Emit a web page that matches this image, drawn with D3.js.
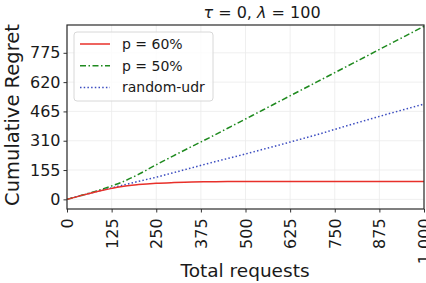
<!DOCTYPE html>
<html>
<head>
<meta charset="utf-8">
<script src="https://cdn.jsdelivr.net/npm/d3@7"></script>
<style>
  body { margin: 0; background: #fff; }
  text { font-family: "DejaVu Sans", sans-serif; fill: #1a1a1a; }
</style>
</head>
<body>
<svg id="chart" width="426" height="283"></svg>
<script>
// data
const requests = [0, 50, 100, 125, 150, 200, 250, 300, 350, 400, 450, 500, 550, 600, 650, 700, 750, 800, 850, 900, 950, 1000];
const regretP60 = [0, 25, 48, 58, 67, 78, 85, 89, 92, 93, 94, 94, 94, 94, 94, 94, 94, 94, 94, 94, 94, 94];
const regretP50 = [0, 26, 55, 71, 88, 132, 183, 232, 280, 327, 376, 425, 474, 523, 572, 621, 670, 719, 768, 817, 866, 915];
const regretRandom = [0, 25, 50, 61, 72, 95, 117, 142, 167, 192, 216, 240, 265, 290, 316, 342, 370, 398, 425, 452, 478, 504];
const seriesNames = ["p = 60%", "p = 50%", "random-udr"];
const xTicks = [0, 125, 250, 375, 500, 625, 750, 875, 1000];
const yTicks = [0, 155, 310, 465, 620, 775];

const margin = {top: 25, right: 2, bottom: 74, left: 67};
const width = 426, height = 283;

const svg = d3.select("#chart");

const x = d3.scaleLinear().domain([0, 1000]).range([margin.left, width - margin.right]);
const y = d3.scaleLinear().domain([-51, 922]).range([height - margin.bottom, margin.top]);

// grid
svg.append("g")
    .selectAll("line")
    .data(xTicks)
    .enter().append("line")
    .attr("x1", (d) => x(d)).attr("x2", (d) => x(d))
    .attr("y1", margin.top).attr("y2", height - margin.bottom)
    .style("stroke", "#ebebeb").style("stroke-width", 0.8);
svg.append("g")
    .selectAll("line")
    .data(yTicks)
    .enter().append("line")
    .attr("x1", margin.left).attr("x2", width - margin.right)
    .attr("y1", (d) => y(d)).attr("y2", (d) => y(d))
    .style("stroke", "#ebebeb").style("stroke-width", 0.8);

// lines
const series = [
    {name: seriesNames[0], values: regretP60, color: "#e8302a", dash: null},
    {name: seriesNames[1], values: regretP50, color: "#1f8a1f", dash: "6,2.5,1.5,2.5"},
    {name: seriesNames[2], values: regretRandom, color: "#3b4cc0", dash: "1.5,2.2"}
];

const line = d3.line()
    .x((d) => x(d[0]))
    .y((d) => y(d[1]))
    .curve(d3.curveMonotoneX);

svg.append("g")
    .selectAll("path")
    .data(series.slice().reverse())
    .enter().append("path")
    .attr("d", (s) => line(requests.map((r, i) => [r, s.values[i]])))
    .style("fill", "none")
    .style("stroke", (s) => s.color)
    .style("stroke-width", 1.5)
    .style("stroke-dasharray", (s) => s.dash);

// axes
const xAxis = svg.append("g")
    .attr("transform", `translate(0, ${height - margin.bottom})`)
    .call(d3.axisBottom(x).tickValues(xTicks).tickSize(3.5).tickPadding(3));
xAxis.selectAll(".tick text")
    .attr("text-anchor", "end")
    .attr("dx", "-0.4em")
    .attr("dy", "0.35em")
    .attr("x", 0).attr("y", 0)
    .attr("transform", "translate(0,3) rotate(-90)")
    .style("font-size", "16px");

const yAxis = svg.append("g")
    .attr("transform", `translate(${margin.left}, 0)`)
    .call(d3.axisLeft(y).tickValues(yTicks).tickSize(3.5).tickPadding(3));
yAxis.selectAll("text").style("font-size", "16px");

svg.selectAll(".domain").remove();
svg.selectAll(".tick line").style("stroke", "#333");

// frame
svg.append("rect")
    .attr("x", margin.left).attr("y", margin.top)
    .attr("width", x(1000) - margin.left)
    .attr("height", y(-51) - margin.top)
    .style("fill", "none").style("stroke", "#2a2a2a").style("stroke-width", 1.2);

// labels
svg.append("text")
    .attr("x", 245).attr("y", 277)
    .attr("text-anchor", "middle")
    .style("font-size", "18.5px")
    .text("Total requests");

svg.append("text")
    .attr("transform", `translate(19, 115) rotate(-90)`)
    .attr("text-anchor", "middle")
    .style("font-size", "19.5px")
    .text("Cumulative Regret");

const title = svg.append("text")
    .attr("x", 262).attr("y", 18)
    .attr("text-anchor", "middle")
    .style("font-size", "16px");
title.append("tspan").style("font-style", "italic").text("τ");
title.append("tspan").text(" = 0,  ");
title.append("tspan").style("font-style", "italic").text("λ");
title.append("tspan").text(" = 100");

// legend
const legend = svg.append("g").attr("transform", "translate(74, 32)");
legend.append("rect")
    .attr("width", 139).attr("height", 69)
    .attr("rx", 3)
    .style("fill", "#fff").style("fill-opacity", 0.8)
    .style("stroke", "#d8d8d8").style("stroke-width", 1);
const item = legend.selectAll(".item")
    .data(series)
    .enter().append("g")
    .attr("class", "item")
    .attr("transform", (d, i) => `translate(0, ${12 + i * 21.7})`);
item.append("line")
    .attr("x1", 6).attr("x2", 36)
    .style("stroke", (d) => d.color)
    .style("stroke-width", 1.5)
    .style("stroke-dasharray", (d) => d.dash);
item.append("text")
    .attr("x", 48).attr("y", 5)
    .style("font-size", "14px")
    .text((d) => d.name);
</script>
</body>
</html>
